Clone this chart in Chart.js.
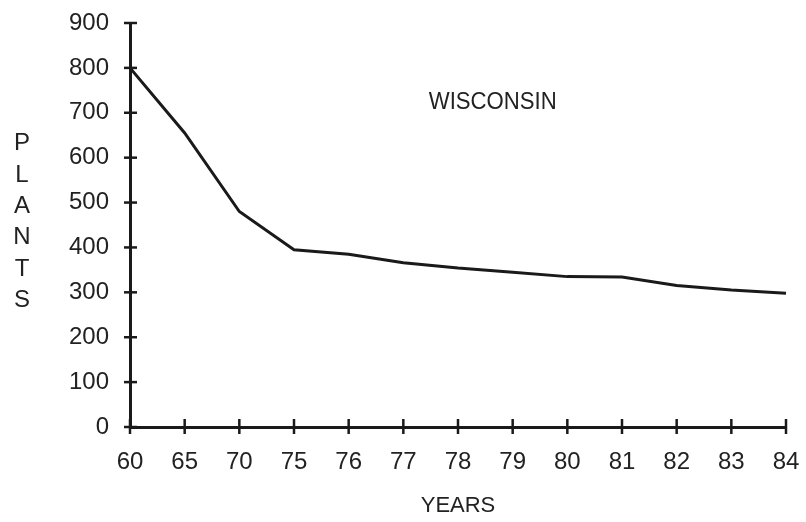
<!DOCTYPE html>
<html><head><meta charset="utf-8">
<script src="https://cdn.jsdelivr.net/npm/chart.js@4"></script>
<style>html,body{margin:0;padding:0;background:#fff}#wrap{width:806px;height:522px}</style>
</head><body><div id="wrap"><canvas id="c" width="806" height="522"></canvas></div>
<script>
const years = ['60','65','70','75','76','77','78','79','80','81','82','83','84'];
const plants = [800, 655, 480, 395, 385, 366, 354, 345, 335, 334, 315, 305, 298];
const yMin = 0, yMax = 900, yStep = 100;
const yAxisTitle = ['P','L','A','N','T','S'];
const xAxisTitle = 'YEARS';
const stateLabel = 'WISCONSIN';

const FONT = '"Liberation Sans", Arial, Helvetica, sans-serif';
const INK = '#1a1a1a';

const decorations = {
  id: 'decorations',
  afterDraw(chart) {
    const ctx = chart.ctx;
    const xs = chart.scales.x, ys = chart.scales.y;
    const ca = chart.chartArea;
    ctx.save();
    ctx.strokeStyle = INK;
    ctx.lineWidth = 2.5;
    ys.ticks.forEach((t, i) => {
      const py = ys.getPixelForTick(i);
      ctx.beginPath(); ctx.moveTo(ca.left - 6, py); ctx.lineTo(ca.left + 7, py); ctx.stroke();
    });
    xs.ticks.forEach((t, i) => {
      const px = xs.getPixelForTick(i);
      ctx.beginPath(); ctx.moveTo(px, ca.bottom - 8); ctx.lineTo(px, ca.bottom + 7); ctx.stroke();
    });
    ctx.fillStyle = '#222';
    ctx.font = '24px ' + FONT;
    ctx.textAlign = 'center';
    ctx.textBaseline = 'middle';
    const gap = 31.4;
    const midY = (ca.top + ca.bottom) / 2 - 3;
    const startY = midY - gap * (yAxisTitle.length - 1) / 2;
    yAxisTitle.forEach((ch, i) => ctx.fillText(ch, 22, startY + i * gap));
    ctx.font = '23px "Liberation Sans Narrow", ' + FONT;
    const w = ctx.measureText(stateLabel).width;
    const target = 128;
    const cx = ca.left + 0.553 * (ca.right - ca.left);
    const cy = ys.getPixelForValue(723);
    ctx.translate(cx, cy);
    ctx.scale(target / w, 1);
    ctx.fillText(stateLabel, 0, 0);
    ctx.restore();
  }
};

new Chart(document.getElementById('c'), {
  type: 'line',
  data: {
    labels: years,
    datasets: [{
      data: plants,
      borderColor: INK,
      borderWidth: 3,
      pointRadius: 0,
      tension: 0,
      fill: false
    }]
  },
  options: {
    responsive: false,
    animation: false,
    devicePixelRatio: 1,
    layout: { padding: { left: 0, right: 20, top: 23, bottom: 0 } },
    plugins: { legend: { display: false }, tooltip: { enabled: false } },
    scales: {
      x: {
        type: 'category',
        offset: false,
        grid: { display: true, drawOnChartArea: false, drawTicks: false },
        border: { color: INK, width: 3 },
        ticks: { padding: 21, color: '#222', font: { family: FONT, size: 24 }, maxRotation: 0, autoSkip: false },
        title: { display: true, text: xAxisTitle, color: '#222', font: { family: FONT, size: 22 }, padding: { top: 0, bottom: 3 } },
        afterFit(s) { s.height = 95; s.paddingLeft = 0; s.paddingRight = 0; }
      },
      y: {
        min: yMin, max: yMax,
        grid: { display: true, drawOnChartArea: false, drawTicks: false },
        border: { color: INK, width: 3 },
        ticks: { stepSize: yStep, padding: 21, color: '#222', font: { family: FONT, size: 24 } },
        afterFit(s) { s.width = 130; s.paddingTop = 0; s.paddingBottom = 0; }
      }
    }
  },
  plugins: [decorations]
});
</script>
</body></html>
